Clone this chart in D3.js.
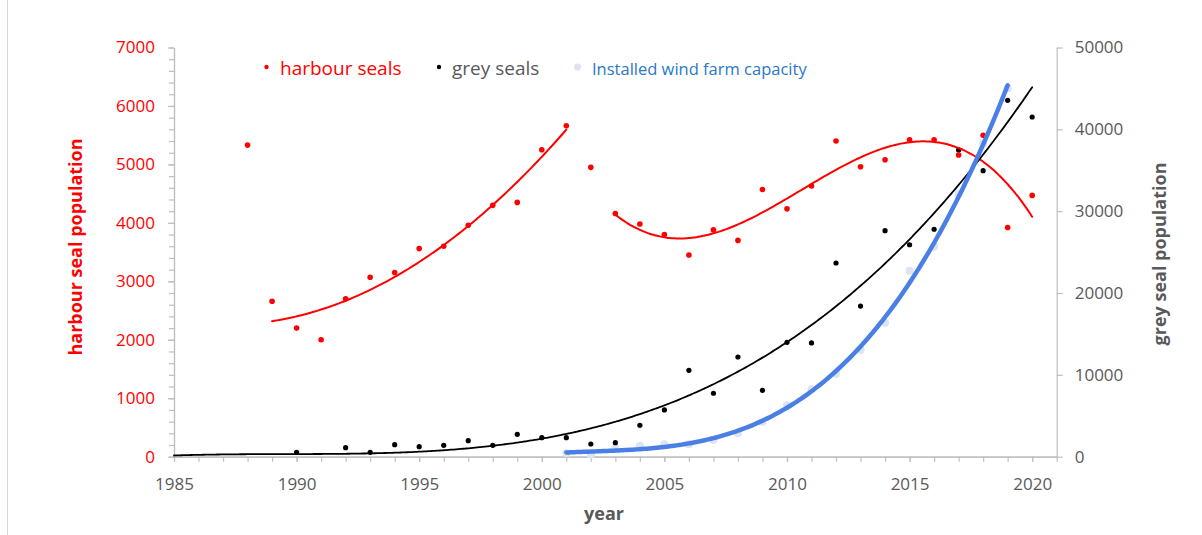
<!DOCTYPE html>
<html>
<head>
<meta charset="utf-8">
<script src="https://cdn.jsdelivr.net/npm/d3@7"></script>
<style>
  html, body { margin: 0; padding: 0; background: #ffffff; }
  svg { display: block; font-family: "Open Sans", sans-serif; }
</style>
</head>
<body>
<svg id="chart" width="1202" height="535"></svg>
<script>
// ---- data ----
const harbourYears = [1988, 1989, 1990, 1991, 1992, 1993, 1994, 1995, 1996, 1997, 1998, 1999, 2000,
  2001, 2002, 2003, 2004, 2005, 2006, 2007, 2008, 2009, 2010, 2011, 2012, 2013, 2014, 2015, 2016,
  2017, 2018, 2019, 2020];
const harbourSeals = [5330, 2660, 2200, 2000, 2700, 3070, 3150, 3560, 3600, 3960, 4300, 4350, 5250,
  5660, 4950, 4160, 3980, 3800, 3450, 3880, 3700, 4570, 4240, 4630, 5400, 4960, 5080, 5420, 5420,
  5160, 5500, 3920, 4470];

const greyYears = [1990, 1992, 1993, 1994, 1995, 1996, 1997, 1998, 1999, 2000, 2001, 2002, 2003,
  2004, 2005, 2006, 2007, 2008, 2009, 2010, 2011, 2012, 2013, 2014, 2015, 2016, 2017, 2018, 2019, 2020];
const greySeals = [540, 1100, 540, 1470, 1220, 1390, 1960, 1390, 2740, 2320, 2320, 1550, 1710,
  3840, 5710, 10560, 7750, 12180, 8110, 13980, 13900, 23670, 18410, 27620, 25900, 27790, 37480,
  34950, 43550, 41510];
// years in the grey-seal column without a count; the trend fit reads them as zero
const greyEmptyYears = [1985, 1986, 1987, 1988, 1989, 1991];

const windYears = [2001, 2002, 2003, 2004, 2005, 2006, 2007, 2008, 2009, 2010, 2011, 2012, 2013,
  2014, 2015, 2016, 2017, 2018, 2019];
const windCapacity = [420, 250, 1030, 1330, 1510, 1510, 2040, 2880, 4280, 6300, 8240, 10100, 13040,
  16370, 22730, 25660, 32100, 38300, 45010];

// polynomial trend segments: [first year, last year, order]
const harbourTrendEarly = [1989, 2001, 2];
const harbourTrendLate = [2003, 2020, 3];
const greyTrend = [1985, 2020, 3];
const windTrend = [2001, 2019, 3];

const xTickLabels = [1985, 1990, 1995, 2000, 2005, 2010, 2015, 2020];
const leftTicks = [0, 1000, 2000, 3000, 4000, 5000, 6000, 7000];
const rightTicks = [0, 10000, 20000, 30000, 40000, 50000];
const legendLabels = ["harbour seals", "grey seals", "Installed wind farm capacity"];

// ---- helpers ----
// least-squares polynomial of the given order, returned as a function of the year
function polyfit(xs, ys, order) {
  const n = order + 1;
  const A = Array.from({ length: n }, () => new Array(n + 1).fill(0));
  xs.forEach((xv, i) => {
    const t = (xv - 2000) / 10;
    for (let r = 0; r < n; r++) {
      for (let c = 0; c < n; c++) A[r][c] += Math.pow(t, r + c);
      A[r][n] += ys[i] * Math.pow(t, r);
    }
  });
  for (let c = 0; c < n; c++) {
    let p = c;
    for (let r = c + 1; r < n; r++) if (Math.abs(A[r][c]) > Math.abs(A[p][c])) p = r;
    [A[c], A[p]] = [A[p], A[c]];
    for (let r = 0; r < n; r++) {
      if (r === c) continue;
      const f = A[r][c] / A[c][c];
      for (let k = c; k <= n; k++) A[r][k] -= f * A[c][k];
    }
  }
  const coef = A.map((row, i) => row[n] / row[i]);
  return xv => { const t = (xv - 2000) / 10; return coef.reduce((s, a, k) => s + a * Math.pow(t, k), 0); };
}

function subset(years, vals, from, to) {
  const xs = [], ys = [];
  years.forEach((y, i) => { if (y >= from && y <= to) { xs.push(y); ys.push(vals[i]); } });
  return [xs, ys];
}

// ---- layout ----
const svg = d3.select("#chart");
const x = d3.scaleLinear().domain([1985, 2021]).range([174, 1056.7]);
const yL = d3.scaleLinear().domain([0, 7000]).range([456.7, 47.5]);
const yR = d3.scaleLinear().domain([0, 50000]).range([456.7, 47.5]);

const axisGrey = "#bfbfbf";
const textGrey = "#595959";
const red = "#ff0000";

// chart frame edge
svg.append("line").attr("x1", 7.5).attr("x2", 7.5).attr("y1", 0).attr("y2", 535)
  .attr("stroke", "#d9d9d9").attr("stroke-width", 1);

function styleAxis(g, color, size) {
  g.selectAll(".domain").attr("stroke", axisGrey).attr("stroke-width", 1.2);
  g.selectAll(".tick line").attr("stroke", axisGrey).attr("stroke-width", 1.2);
  g.selectAll(".tick text").attr("fill", color).style("font-size", size + "px")
    .style("font-family", '"Open Sans", sans-serif');
}

// x axis: yearly minor ticks, labelled every five years
const xMinor = svg.append("g").attr("transform", `translate(0,${yL(0)})`)
  .call(d3.axisBottom(x).tickValues(d3.range(1985, 2022, 1)).tickSize(5).tickSizeOuter(0).tickFormat(""));
styleAxis(xMinor, textGrey, 17);
const xMajor = svg.append("g").attr("transform", `translate(0,${yL(0)})`)
  .call(d3.axisBottom(x).tickValues(xTickLabels).tickSize(5).tickPadding(16).tickSizeOuter(0).tickFormat(d3.format("d")));
styleAxis(xMajor, textGrey, 17);

// left axis (harbour seals)
const lMinor = svg.append("g").attr("transform", `translate(${x(1985)},0)`)
  .call(d3.axisLeft(yL).tickValues(d3.range(0, 7001, 200)).tickSize(5).tickSizeOuter(0).tickFormat(""));
styleAxis(lMinor, red, 17);
const lMajor = svg.append("g").attr("transform", `translate(${x(1985)},0)`)
  .call(d3.axisLeft(yL).tickValues(leftTicks).tickSize(6).tickPadding(13).tickSizeOuter(0).tickFormat(d3.format("d")));
styleAxis(lMajor, red, 17);

// right axis (grey seals, wind capacity)
const rAxis = svg.append("g").attr("transform", `translate(${x(2021)},0)`)
  .call(d3.axisRight(yR).tickValues(rightTicks).tickSize(6).tickPadding(12).tickSizeOuter(0).tickFormat(d3.format("d")));
styleAxis(rAxis, textGrey, 17);

// axis titles
svg.append("text").attr("transform", `translate(82,247) rotate(-90)`)
  .attr("text-anchor", "middle").attr("fill", red).style("font-weight", "bold").style("font-size", "18px")
  .text("harbour seal population");
svg.append("text").attr("transform", `translate(1166,254) rotate(-90)`)
  .attr("text-anchor", "middle").attr("fill", textGrey).style("font-weight", "bold").style("font-size", "18px")
  .text("grey seal population");
svg.append("text").attr("x", 604).attr("y", 520)
  .attr("text-anchor", "middle").attr("fill", textGrey).style("font-weight", "bold").style("font-size", "18px")
  .text("year");

// ---- markers ----
const windColor = "#dbe4f1";
svg.append("g").selectAll("circle").data(windYears.map((y, i) => [y, windCapacity[i]])).join("circle")
  .attr("cx", d => x(d[0])).attr("cy", d => yR(d[1])).attr("r", 4).attr("fill", windColor);
svg.append("g").selectAll("circle").data(greyYears.map((y, i) => [y, greySeals[i]])).join("circle")
  .attr("cx", d => x(d[0])).attr("cy", d => yR(d[1])).attr("r", 2.6).attr("fill", "#000000");
svg.append("g").selectAll("circle").data(harbourYears.map((y, i) => [y, harbourSeals[i]])).join("circle")
  .attr("cx", d => x(d[0])).attr("cy", d => yL(d[1])).attr("r", 2.8).attr("fill", red);

// ---- trend lines ----
function drawTrend(xs, ys, spec, yScale, color, width) {
  const [a, b, order] = spec;
  const f = polyfit(xs, ys, order);
  const pts = d3.range(a, b + 0.001, 0.1).map(t => [t, f(t)]);
  svg.append("path").datum(pts)
    .attr("d", d3.line().x(d => x(d[0])).y(d => yScale(d[1])).curve(d3.curveMonotoneX))
    .attr("fill", "none").attr("stroke", color).attr("stroke-width", width)
    .attr("stroke-linecap", "round");
}
drawTrend(...subset(harbourYears, harbourSeals, harbourTrendEarly[0], harbourTrendEarly[1]),
  harbourTrendEarly, yL, red, 2);
drawTrend(...subset(harbourYears, harbourSeals, harbourTrendLate[0], harbourTrendLate[1]),
  harbourTrendLate, yL, red, 2);
drawTrend(greyYears.concat(greyEmptyYears), greySeals.concat(greyEmptyYears.map(() => 0)),
  greyTrend, yR, "#000000", 1.8);
drawTrend(windYears, windCapacity, windTrend, yR, "#4a7fe6", 4.5);

// ---- legend ----
const legend = [
  { label: legendLabels[0], mx: 266.5, tx: 280, r: 2.2, mark: red, color: red, size: 19 },
  { label: legendLabels[1], mx: 439, tx: 452, r: 2.2, mark: "#000000", color: textGrey, size: 19 },
  { label: legendLabels[2], mx: 577.5, tx: 592, r: 3.5, mark: windColor, color: "#2878c8", size: 16.5 }
];
const lg = svg.append("g");
legend.forEach(d => {
  lg.append("circle").attr("cx", d.mx).attr("cy", 67).attr("r", d.r).attr("fill", d.mark);
  lg.append("text").attr("x", d.tx).attr("y", 74.5).attr("fill", d.color)
    .style("font-size", d.size + "px").text(d.label);
});
</script>
</body>
</html>
